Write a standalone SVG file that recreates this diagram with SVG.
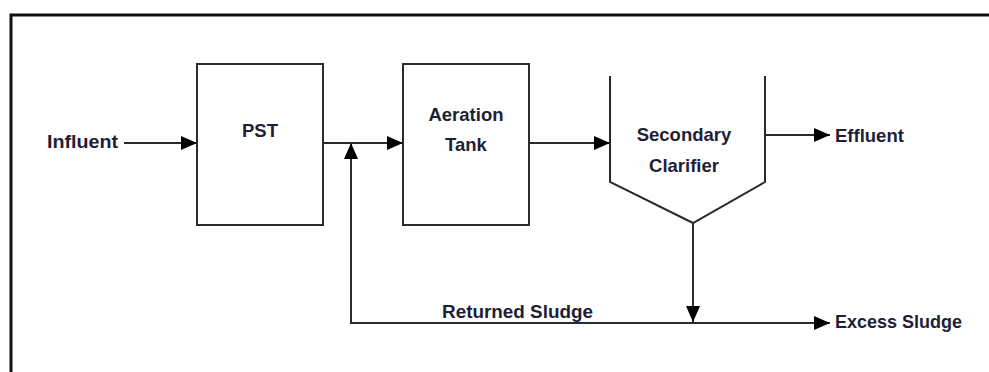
<svg xmlns="http://www.w3.org/2000/svg" width="989" height="372" viewBox="0 0 989 372">
<defs>
<style>
.box{fill:none;stroke:#2b2b2b;stroke-width:2}
.ln{fill:none;stroke:#2b2b2b;stroke-width:2}
.lbl{font-family:"Liberation Sans",Arial,sans-serif;font-weight:bold;font-size:18.5px;fill:#1e1e36}
.c{text-anchor:middle}
</style>
<marker id="ah" viewBox="0 0 16 14" refX="16" refY="7" markerWidth="16" markerHeight="14" markerUnits="userSpaceOnUse" orient="auto">
<path d="M0,0 L16,7 L0,14 Z" fill="#000"/>
</marker>
</defs>
<rect width="989" height="372" fill="#fff"/>
<path d="M11,372 V15 H989" fill="none" stroke="#111" stroke-width="3"/>
<g id="influent"><text class="lbl" x="47" y="148" textLength="71" lengthAdjust="spacingAndGlyphs">Influent</text></g>
<g id="pst"><rect class="box" x="197" y="64" width="126" height="161"/><text class="lbl c" x="260" y="137">PST</text></g>
<g id="aeration"><rect class="box" x="403" y="64" width="126" height="161"/><text class="lbl c" x="466" y="121">Aeration</text><text class="lbl c" x="466" y="151">Tank</text></g>
<g id="clarifier"><path class="ln" d="M610,76 V182 L693,223 L765,182 V76"/><text class="lbl c" x="684" y="141">Secondary</text><text class="lbl c" x="684" y="172">Clarifier</text></g>
<g id="effluent"><text class="lbl" x="835" y="142">Effluent</text></g>
<g id="excess"><text class="lbl" x="835" y="328" textLength="127" lengthAdjust="spacingAndGlyphs">Excess Sludge</text></g>
<g id="returned"><text class="lbl" x="442" y="318" textLength="151" lengthAdjust="spacingAndGlyphs">Returned Sludge</text></g>
<g id="connectors">
<line class="ln" x1="124" y1="143" x2="197" y2="143" marker-end="url(#ah)"/>
<line class="ln" x1="323" y1="143" x2="403" y2="143" marker-end="url(#ah)"/>
<line class="ln" x1="529" y1="143" x2="610" y2="143" marker-end="url(#ah)"/>
<line class="ln" x1="765" y1="135" x2="830" y2="135" marker-end="url(#ah)"/>
<line class="ln" x1="693" y1="223" x2="693" y2="322" marker-end="url(#ah)"/>
<line class="ln" x1="351" y1="323" x2="830" y2="323" marker-end="url(#ah)"/>
<line class="ln" x1="351" y1="324" x2="351" y2="143" marker-end="url(#ah)"/>
</g>
</svg>
